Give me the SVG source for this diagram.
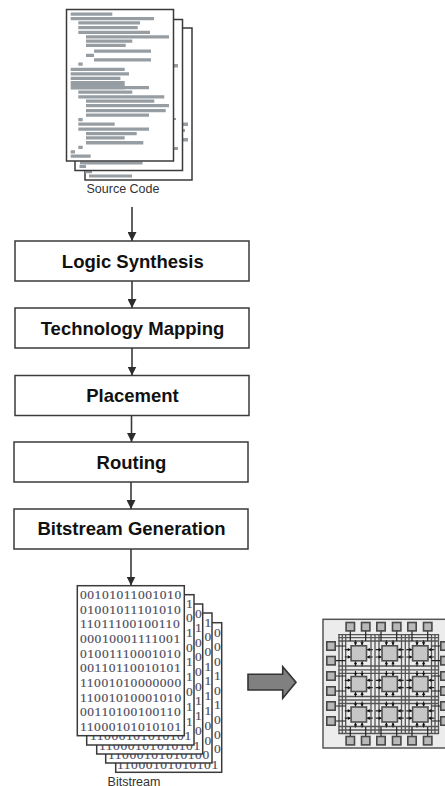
<svg xmlns="http://www.w3.org/2000/svg" width="445" height="786" viewBox="0 0 445 786">
<style>
.page{fill:#fff;stroke:#3a3a3a;stroke-width:1.5}
.bar{fill:#969ea4}
.box{fill:#fff;stroke:#3a3a3a;stroke-width:1.5}
.lbl{font-family:"Liberation Sans",Arial,sans-serif;font-weight:bold;font-size:18.5px;fill:#111;text-anchor:middle}
.cap{font-family:"Liberation Sans",Arial,sans-serif;font-size:12.5px;fill:#333;text-anchor:middle}
.bits{font-family:"Liberation Serif","Times New Roman",serif;font-size:13.5px;letter-spacing:.55px;fill:#4a4a5c;stroke:#4a4a5c;stroke-width:.15}
.conn{stroke:#3a3a3a;stroke-width:1.6;fill:none;marker-end:url(#ah)}
.wire{stroke:#555;stroke-width:1.3;fill:none}
.pin{stroke:#222;stroke-width:1.2;fill:none}
.tip{fill:#111}
.pad{fill:#b8b8b8;stroke:#484848;stroke-width:1.6}
.clb{fill:#c6c6c6;stroke:#505050;stroke-width:1.6}
</style>
<defs>
<marker id="ah" markerUnits="userSpaceOnUse" markerWidth="10" markerHeight="9" refX="9" refY="4.5" orient="auto"><path d="M0 0L9 4.5L0 9Z" fill="#2c2c2c"/></marker>
<rect id="p" class="pad" x="-4.200" y="-4.200" width="8.400" height="8.400"/>
<g id="c">
<path class="pin" d="M-3.300 -13V-8M3.300 -13V-8M-3.300 13V8M3.300 13V8M-14 -3.700H-8M-14 3.700H-8M14 -3.700H8M14 3.700H8"/>
<path class="tip" d="M-5 -11h3.400l-1.700 3zM1.600 -11h3.400l-1.700 3zM-5 11h3.400l-1.700 -3zM1.600 11h3.400l-1.700 -3zM-11 -5.400v3.400l3 -1.700zM-11 2v3.400l3 -1.700zM11 -5.400v3.400l-3 -1.700zM11 2v3.400l-3 -1.700z"/>
<rect class="clb" x="-7.700" y="-7.500" width="15.400" height="15"/>
</g>
</defs>
<rect width="445" height="786" fill="#fff"/>

<g id="source-code">
<rect class="page" x="85" y="28" width="107" height="152"/>
<path class="bar" d="M85 170.500h7v2.800h-7zM89 174.500h43v3h-43zM174 124h4v3h-4zM183 122.500h5v3.500h-5zM183 129h2v3h-2zM183 138h5v3.500h-5z"/>
<rect class="page" x="75" y="19.500" width="107.500" height="151"/>
<path class="bar" d="M80 161.500h62.500v3h-62.500zM79.500 165h6.500v3h-6.500zM174 64h4v3.500h-4zM174 118h2v2h-2zM174 147h4v3h-4z"/>
<rect class="page" x="66.500" y="9.500" width="107" height="151.500"/>
<path class="bar" d="M70.700 12.500h41.600v3.200h-41.600zM70.700 17h83.300v3.200h-83.300zM78.300 21.200h61.700v3.200h-61.700zM78.300 26h59.400v3.200h-59.400zM78.300 30.800h71.700v3.200h-71.700zM86 35.200h83v3.200h-83zM86 39.500h46.300v3.200h-46.300zM86 43.800h39.700v3.200h-39.700zM94 49.500h57v3.200h-57zM86 53.800h8v3.200h-8zM94 58.200h57v3.200h-57zM78.300 62.500h4.400v3.200h-4.400zM70.700 67.800h54v3.200h-54zM70.700 72.200h58.300v3.200h-58.300zM70.700 76.800h49.700v3.200h-49.700zM70.700 81h54v8.500h-54zM70.700 86h78.300v3.300h-78.300zM78.300 90.500h54v3.200h-54zM78.300 95.200h86v3.200h-86zM86 99.500h68.300v3.200h-68.300zM86 104h83v3.200h-83zM86 109h79.700v3.200h-79.700zM86 113.500h63v3.200h-63zM78.300 118h4.400v3.200h-4.400zM78.300 122.500h36.400v3.200h-36.400zM78.300 127.500h70.700v3.200h-70.700zM86 132h50.700v3.200h-50.700zM86 136.200h38.700v3.200h-38.700zM86 141h57.300v3.500h-57.300zM78.300 145.800h4.400v3.200h-4.400zM70.700 150.200h4.300v3.200h-4.300zM70.700 154.500h20v3.200h-20z"/>
<text class="cap" x="123" y="193">Source Code</text>
</g>

<g id="logic-synthesis"><rect class="box" x="15" y="241" width="234" height="40"/><text class="lbl" x="132.800" y="268.300">Logic Synthesis</text></g>
<g id="technology-mapping"><rect class="box" x="15" y="308" width="234" height="40"/><text class="lbl" x="132.500" y="335">Technology Mapping</text></g>
<g id="placement"><rect class="box" x="15" y="375.500" width="234" height="40"/><text class="lbl" x="132.500" y="401.800">Placement</text></g>
<g id="routing"><rect class="box" x="14" y="442" width="234" height="40"/><text class="lbl" x="131.500" y="468.500">Routing</text></g>
<g id="bitstream-generation"><rect class="box" x="14" y="509" width="234" height="40"/><text class="lbl" x="131.500" y="535.300">Bitstream Generation</text></g>

<g id="connectors">
<path class="conn" d="M132 207V241"/>
<path class="conn" d="M132 281V308"/>
<path class="conn" d="M132 348V375.500"/>
<path class="conn" d="M131.500 415.500V442"/>
<path class="conn" d="M131 482V509"/>
<path class="conn" d="M131 549V585.500"/>
</g>

<g id="bitstream">
<rect class="page" x="115.700" y="622.700" width="106" height="149.600"/>
<text class="bits" x="117" y="768.600">11000101010101</text>
<text class="bits"><tspan x="214" y="636.500">0</tspan><tspan x="214" y="651">0</tspan><tspan x="214" y="665.500">0</tspan><tspan x="214" y="680.200">1</tspan><tspan x="214" y="694.800">0</tspan><tspan x="214" y="709.400">1</tspan><tspan x="214" y="724">0</tspan><tspan x="214" y="738.600">0</tspan><tspan x="214" y="753.200">0</tspan></text>
<rect class="page" x="105.700" y="613" width="106.300" height="150"/>
<text class="bits" x="108" y="759.400">11000101010100</text>
<text class="bits"><tspan x="204.500" y="626.500">1</tspan><tspan x="204.500" y="641.200">0</tspan><tspan x="204.500" y="655.800">0</tspan><tspan x="204.500" y="670.500">1</tspan><tspan x="204.500" y="685.200">1</tspan><tspan x="204.500" y="700">1</tspan><tspan x="204.500" y="715">1</tspan><tspan x="204.500" y="730">0</tspan><tspan x="204.500" y="744.500">0</tspan></text>
<rect class="page" x="96.700" y="604" width="106" height="150"/>
<text class="bits" x="99" y="749.800">11000101010101</text>
<text class="bits"><tspan x="195" y="617.500">0</tspan><tspan x="195" y="632">1</tspan><tspan x="195" y="646.500">0</tspan><tspan x="195" y="661.200">0</tspan><tspan x="195" y="675.800">0</tspan><tspan x="195" y="690.500">0</tspan><tspan x="195" y="705.200">1</tspan><tspan x="195" y="720">1</tspan><tspan x="195" y="734.500">0</tspan></text>
<rect class="page" x="86.700" y="594.700" width="107.300" height="150.300"/>
<text class="bits" x="90" y="740.300">11000101010101</text>
<text class="bits"><tspan x="186" y="607.500">1</tspan><tspan x="186" y="622">0</tspan><tspan x="186" y="637">1</tspan><tspan x="186" y="651.500">0</tspan><tspan x="186" y="666">1</tspan><tspan x="186" y="681">1</tspan><tspan x="186" y="696">0</tspan><tspan x="186" y="711">1</tspan><tspan x="186" y="725.500">1</tspan></text>
<rect class="page" x="77.300" y="585.700" width="107" height="150"/>
<text class="bits"><tspan x="80" y="599">00101011001010</tspan><tspan x="80" y="613.600">01001011101010</tspan><tspan x="80" y="628.300">11011100100110</tspan><tspan x="80" y="643">00010001111001</tspan><tspan x="80" y="657.600">01001110001010</tspan><tspan x="80" y="672.300">00110110010101</tspan><tspan x="80" y="687">11001010000000</tspan><tspan x="80" y="701.600">11001010001010</tspan><tspan x="80" y="716.300">00110100100110</tspan><tspan x="80" y="730.800">11000101010101</tspan></text>
<text class="cap" x="134" y="785.800">Bitstream</text>
</g>

<g id="transfer-arrow">
<path d="M248 674.300H282.700V666.700L296 682.300L282.700 698.300V690H248Z" fill="#808080" stroke="#333" stroke-width="1.6"/>
</g>

<g id="fpga">
<rect x="323" y="619.300" width="140" height="128.700" fill="#ececec" stroke="#555" stroke-width="1.5"/>
<path class="wire" d="M338.300 634.700H439M338.300 637.700H439M338.300 641H439M338.300 666H439M338.300 669.800H439M338.300 673.300H439M338.300 696.500H439M338.300 700H439M338.300 703.500H439M338.300 726.500H439M338.300 730H439M338.300 733.500H439"/>
<path class="wire" d="M339 634V734M342.300 634V734M345.700 634V734M371 634V734M375 634V734M379 634V734M401.500 634V734M405.300 634V734M409 634V734M431.500 634V734M435 634V734M438.500 634V734"/>
<path class="pin" d="M350.300 630V641M365.700 630V641M381 630V641M396.700 630V641M412 630V641M427.700 630V641M350.300 727V737M365.700 727V737M381 727V737M396.700 727V737M412 727V737M427.700 727V737M335 646H345.700M335 660.700H345.700M335 676H345.700M335 691H345.700M335 706H345.700M335 721H345.700M431.500 646H441M431.500 660.700H441M431.500 676H441M431.500 691H441M431.500 706H441M431.500 721H441"/>
<use href="#c" x="358.800" y="653.300"/><use href="#c" x="389.700" y="653.300"/><use href="#c" x="420.300" y="653.300"/>
<use href="#c" x="358.800" y="684"/><use href="#c" x="389.700" y="684"/><use href="#c" x="420.300" y="684"/>
<use href="#c" x="358.800" y="714.500"/><use href="#c" x="389.700" y="714.500"/><use href="#c" x="420.300" y="714.500"/>
<use href="#p" x="350.300" y="626.700"/><use href="#p" x="365.700" y="626.700"/><use href="#p" x="381" y="626.700"/><use href="#p" x="396.700" y="626.700"/><use href="#p" x="412" y="626.700"/><use href="#p" x="427.700" y="626.700"/>
<use href="#p" x="350.300" y="740.700"/><use href="#p" x="365.700" y="740.700"/><use href="#p" x="381" y="740.700"/><use href="#p" x="396.700" y="740.700"/><use href="#p" x="412" y="740.700"/><use href="#p" x="427.700" y="740.700"/>
<use href="#p" x="331" y="646"/><use href="#p" x="331" y="660.700"/><use href="#p" x="331" y="676"/><use href="#p" x="331" y="691"/><use href="#p" x="331" y="706"/><use href="#p" x="331" y="721"/>
<use href="#p" x="445" y="646"/><use href="#p" x="445" y="660.700"/><use href="#p" x="445" y="676"/><use href="#p" x="445" y="691"/><use href="#p" x="445" y="706"/><use href="#p" x="445" y="721"/>
</g>
</svg>
